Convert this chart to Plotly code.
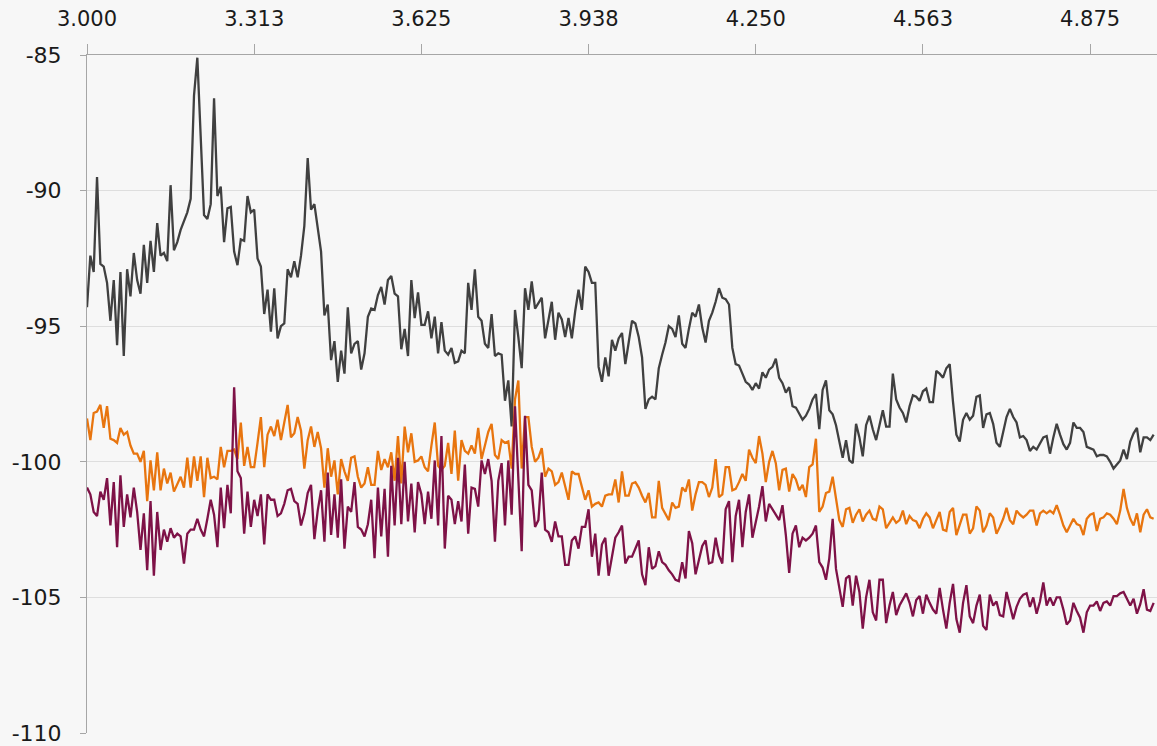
import plotly.graph_objects as go

# Frequency grid (GHz): 320 samples, 6.25 MHz apart, starting at 3.000
freq_start = 3.0
freq_step = 0.00625

# Level traces (dBm)
trace_gray = [
    -94.3, -92.4, -93.0, -89.5, -92.7, -92.8, -93.4, -94.8, -93.3, -95.7,
    -93.0, -96.1, -92.9, -93.9, -92.3, -93.3, -93.8, -92.0, -93.4, -91.85,
    -93.0, -91.2, -92.4, -92.3, -92.6, -89.8, -92.2, -91.9, -91.45, -91.15,
    -90.8, -90.3, -86.5, -85.1, -87.9, -90.9, -91.05, -90.5, -86.6, -90.2,
    -89.85, -91.9, -90.65, -90.6, -92.25, -92.75, -91.8, -91.85, -90.2, -90.8,
    -90.7, -92.5, -92.8, -94.55, -93.65, -95.2, -93.6, -95.45, -95.0, -94.9,
    -92.9, -93.2, -92.6, -93.2, -92.4, -91.3, -88.8, -90.7, -90.5, -91.4,
    -92.25, -94.6, -94.2, -96.25, -95.55, -97.05, -95.9, -96.75, -94.3, -96.0,
    -95.65, -95.55, -96.6, -96.0, -94.65, -94.35, -94.4, -93.85, -93.55, -94.2,
    -93.3, -93.15, -93.8, -93.9, -95.85, -95.1, -96.1, -93.3, -94.7, -93.75,
    -94.95, -94.95, -94.45, -95.45, -94.65, -96.0, -94.85, -95.9, -96.05, -95.8,
    -96.35, -96.3, -95.9, -96.0, -93.4, -94.4, -92.9, -94.65, -94.8, -95.65,
    -95.8, -94.55, -96.1, -96.0, -96.05, -97.75, -97.0, -98.7, -94.4, -95.4,
    -96.55, -93.6, -94.4, -93.35, -94.35, -94.15, -93.95, -95.45, -94.7, -94.1,
    -95.5, -94.5, -94.75, -95.4, -94.7, -95.45, -94.45, -93.65, -94.4, -92.8,
    -93.0, -93.4, -93.4, -96.5, -97.05, -96.15, -96.85, -95.5, -95.9, -95.45,
    -95.25, -96.4, -95.6, -94.8, -94.9, -95.4, -96.15, -98.05, -97.7, -97.6,
    -97.7, -96.55, -96.05, -95.6, -95.0, -95.1, -95.4, -94.6, -95.65, -95.8,
    -95.1, -94.5, -94.65, -94.2, -95.05, -95.6, -94.8, -94.5, -94.1, -93.6,
    -93.95, -94.0, -94.2, -95.8, -96.4, -96.45, -96.75, -97.05, -97.15, -97.35,
    -97.1, -97.3, -96.7, -96.9, -96.6, -96.5, -96.2, -96.9, -97.1, -97.45,
    -97.25, -97.95, -98.0, -98.2, -98.45, -98.3, -98.05, -97.7, -97.5, -98.8,
    -97.35, -97.0, -98.1, -98.25, -98.65, -99.25, -99.85, -99.2, -99.95, -100.05,
    -98.6, -99.1, -99.8, -98.65, -98.3, -98.8, -99.2, -98.65, -98.1, -98.7,
    -98.7, -96.75, -97.7, -98.0, -98.2, -98.55, -97.95, -97.55, -97.6, -97.75,
    -97.4, -97.3, -97.8, -97.8, -96.65, -96.75, -96.9, -96.55, -96.4, -97.8,
    -99.0, -99.25, -98.45, -98.2, -98.45, -98.3, -97.6, -97.55, -98.75, -98.25,
    -98.2, -98.6, -99.3, -99.45, -98.9, -98.35, -98.05, -98.35, -98.55, -99.1,
    -99.05, -99.2, -99.6, -99.45, -99.55, -99.35, -99.1, -99.05, -99.7, -99.1,
    -98.6, -99.0, -99.35, -99.55, -99.3, -98.55, -98.75, -98.75, -98.9, -99.45,
    -99.5, -99.55, -99.8, -99.75, -99.75, -99.8, -100.0, -100.25, -100.1, -99.95,
    -99.55, -99.9, -99.25, -98.95, -98.75, -99.65, -99.1, -99.1, -99.2, -99.0,
]

trace_orange = [
    -98.4, -99.2, -98.2, -98.15, -97.9, -98.75, -97.95, -99.15, -99.2, -99.3,
    -98.75, -99.0, -98.9, -99.4, -99.7, -99.7, -100.0, -99.6, -101.45, -99.95,
    -101.05, -99.65, -101.05, -100.25, -100.8, -100.4, -101.1, -100.8, -100.55, -100.95,
    -99.85, -100.95, -99.8, -100.7, -99.8, -101.3, -99.85, -100.6, -100.55, -100.65,
    -99.45, -100.2, -99.6, -99.6, -99.55, -99.9, -98.55, -100.15, -99.45, -100.2,
    -100.2, -99.3, -98.35, -100.2, -99.0, -98.7, -99.05, -98.45, -99.2, -98.55,
    -97.9, -99.1, -98.95, -98.35, -98.85, -100.25, -99.2, -98.7, -99.45, -98.9,
    -99.5, -100.95, -99.5, -100.55, -99.95, -101.2, -99.9, -100.35, -100.7, -99.85,
    -99.8, -100.55, -100.95, -100.8, -100.2, -100.85, -100.85, -99.6, -100.3, -99.9,
    -100.2, -99.65, -100.7, -99.05, -100.8, -98.7, -99.65, -98.95, -100.0, -99.95,
    -99.8, -100.2, -100.35, -99.4, -98.55, -100.15, -100.3, -100.15, -99.3, -100.45,
    -98.85, -100.7, -99.2, -99.6, -99.7, -99.4, -99.7, -98.75, -99.9, -99.4,
    -98.9, -98.6, -99.75, -99.9, -99.2, -99.3, -99.25, -100.25, -97.7, -97.0,
    -100.25, -98.35, -98.35, -99.45, -100.0, -99.85, -99.5, -100.55, -100.25, -100.35,
    -100.85, -100.75, -100.4, -100.9, -101.4, -100.35, -100.45, -100.45, -100.95, -101.4,
    -101.05, -101.65, -101.55, -101.5, -101.65, -101.25, -101.2, -101.2, -100.65, -101.5,
    -100.35, -101.25, -101.25, -100.8, -100.75, -100.95, -101.25, -101.5, -101.15, -102.05,
    -102.05, -100.7, -101.7, -101.9, -102.15, -101.5, -101.7, -101.65, -100.95, -101.1,
    -100.65, -101.8, -101.2, -100.75, -100.75, -100.85, -101.3, -100.95, -99.9, -101.3,
    -101.2, -100.2, -100.2, -101.05, -101.0, -100.75, -100.45, -100.7, -99.55, -99.85,
    -100.05, -99.05, -99.7, -100.75, -100.0, -99.6, -100.05, -101.05, -100.3, -100.25,
    -101.1, -100.45, -100.65, -101.05, -100.85, -101.3, -100.2, -100.1, -99.15, -101.85,
    -101.65, -101.15, -101.1, -100.55, -101.4, -102.15, -102.4, -101.75, -101.7, -102.25,
    -101.95, -101.75, -102.2, -101.95, -101.8, -102.1, -102.15, -101.65, -101.75, -102.45,
    -102.25, -102.05, -102.25, -102.15, -101.8, -102.3, -102.0, -102.15, -102.2, -102.45,
    -102.1, -101.9, -102.05, -102.45, -102.15, -101.85, -102.5, -102.55, -101.85, -101.7,
    -102.7, -102.35, -101.95, -101.95, -102.65, -102.45, -101.65, -101.8, -102.6, -102.35,
    -101.9, -102.05, -102.65, -102.4, -102.1, -101.7, -102.15, -102.3, -101.8, -101.95,
    -102.05, -101.95, -101.8, -101.8, -102.35, -101.9, -101.8, -101.9, -101.8, -101.9,
    -101.6, -101.95, -102.35, -102.6, -102.35, -102.1, -102.3, -102.35, -102.7, -102.1,
    -101.95, -101.9, -102.55, -102.1, -102.05, -101.9, -101.95, -102.1, -102.3, -101.8,
    -101.0, -101.7, -102.1, -102.35, -101.9, -102.6, -101.95, -101.75, -102.05, -102.1,
]

trace_purple = [
    -100.95, -101.2, -101.85, -102.0, -101.1, -101.4, -100.6, -102.35, -100.75, -103.15,
    -100.5, -102.4, -101.2, -102.05, -100.95, -101.85, -103.25, -101.9, -104.0, -101.45,
    -104.2, -101.85, -103.25, -102.5, -102.95, -102.45, -102.8, -102.65, -102.75, -103.75,
    -102.65, -102.5, -102.5, -102.1, -102.5, -102.75, -102.1, -101.4, -101.95, -103.15,
    -100.95, -102.45, -100.85, -101.9, -97.25, -100.35, -100.6, -102.65, -101.1, -102.4,
    -101.4, -102.0, -101.2, -103.05, -101.2, -101.4, -101.4, -102.0, -101.9, -101.55,
    -101.05, -101.0, -101.45, -101.55, -102.35, -101.9, -101.15, -100.85, -102.85, -101.8,
    -101.05, -102.95, -100.4, -102.7, -101.2, -102.8, -100.65, -103.2, -101.65, -101.85,
    -100.75, -102.4, -102.5, -102.75, -102.3, -101.4, -103.55, -100.95, -102.75, -101.0,
    -103.5, -100.15, -102.35, -99.85, -102.3, -100.0, -102.2, -100.8, -102.6, -100.75,
    -101.2, -102.3, -101.1, -102.1, -99.95, -102.35, -99.05, -103.2, -101.25, -101.4,
    -102.3, -101.45, -102.2, -100.1, -102.65, -100.95, -101.0, -101.65, -99.95, -100.45,
    -99.9, -100.7, -102.95, -100.7, -100.05, -102.35, -99.95, -101.95, -97.95, -100.55,
    -103.3, -98.3, -100.85, -101.05, -102.4, -102.15, -100.4, -102.5, -102.6, -102.95,
    -102.2, -102.75, -102.75, -103.8, -103.8, -102.9, -102.75, -103.2, -102.4, -102.4,
    -101.75, -103.5, -102.65, -104.2, -103.05, -102.8, -104.2, -103.5, -102.8, -102.6,
    -102.35, -103.75, -103.5, -103.5, -103.2, -102.9, -104.15, -104.55, -103.15, -103.95,
    -103.85, -103.3, -103.7, -103.8, -104.0, -104.15, -104.35, -104.4, -103.7, -104.3,
    -102.55, -103.0, -104.15, -103.6, -103.1, -102.9, -103.75, -103.7, -102.8, -103.45,
    -103.75, -101.75, -101.45, -103.7, -102.0, -101.4, -103.15, -101.85, -101.2, -102.8,
    -102.2, -101.65, -100.9, -102.2, -101.55, -101.75, -101.9, -102.15, -101.6, -102.7,
    -104.1, -102.65, -102.35, -103.15, -102.8, -102.9, -102.8, -102.65, -102.35, -103.7,
    -103.9, -104.35, -103.55, -102.1, -103.95, -104.7, -105.35, -104.3, -104.2, -105.3,
    -104.2, -104.8, -106.15, -105.0, -104.35, -105.55, -105.85, -104.35, -104.35, -105.95,
    -105.3, -104.8, -105.65, -105.3, -105.05, -104.85, -105.2, -105.7, -105.1, -104.95,
    -105.6, -104.9, -105.2, -105.45, -105.6, -104.65, -105.45, -106.15, -105.2, -104.5,
    -105.8, -106.3, -105.2, -104.55, -105.7, -105.95, -105.3, -104.9, -106.05, -106.2,
    -104.9, -105.3, -105.15, -105.65, -105.7, -104.8, -105.3, -105.8, -105.35, -105.05,
    -104.9, -104.85, -105.35, -105.0, -105.6, -105.15, -104.45, -105.3, -105.0, -105.3,
    -105.0, -105.0, -105.45, -106.0, -105.85, -105.2, -105.5, -105.75, -106.3, -105.55,
    -105.3, -105.3, -105.15, -105.5, -105.2, -105.15, -105.3, -104.95, -104.95, -104.85,
    -104.8, -105.05, -105.3, -105.05, -105.6, -105.25, -104.7, -105.45, -105.5, -105.2,
]

x_ticks = [3.000, 3.3125, 3.625, 3.9375, 4.25, 4.5625, 4.875]
x_tick_text = ["3.000", "3.313", "3.625", "3.938", "4.250", "4.563", "4.875"]
y_ticks = [-110, -105, -100, -95, -90, -85]

freqs = [freq_start + i * freq_step for i in range(len(trace_gray))]

fig = go.Figure()
for values, color in [
    (trace_gray, "#404040"),
    (trace_orange, "#E8750F"),
    (trace_purple, "#7E1247"),
]:
    fig.add_trace(go.Scatter(
        x=freqs[:len(values)], y=values, mode="lines",
        line=dict(color=color, width=2.3), showlegend=False,
        hoverinfo="skip",
    ))

bg = "#F7F7F7"
fig.update_layout(
    width=1157, height=746,
    margin=dict(l=87, r=0, t=55, b=13),
    paper_bgcolor=bg, plot_bgcolor=bg,
    font=dict(family="DejaVu Sans", size=20, color="#1a1a1a"),
    xaxis=dict(
        side="top", range=[3.0, 5.0],
        tickmode="array", tickvals=x_ticks, ticktext=x_tick_text,
        showgrid=False, zeroline=False,
        showline=True, linecolor="#A6A6A6", linewidth=1,
        ticks="outside", ticklen=10, tickcolor="#A6A6A6",
        ticklabelstandoff=10,
        tickfont=dict(size=21),
    ),
    yaxis=dict(
        range=[-110, -85],
        tickmode="array", tickvals=y_ticks,
        ticktext=[str(v) for v in y_ticks],
        showgrid=True, gridcolor="#DEDEDE", gridwidth=1,
        zeroline=False,
        showline=True, linecolor="#A6A6A6", linewidth=1,
        ticks="outside", ticklen=6, tickcolor="#A6A6A6",
        ticklabelstandoff=14,
        tickfont=dict(size=22),
    ),
)

fig.write_html("out.html")
